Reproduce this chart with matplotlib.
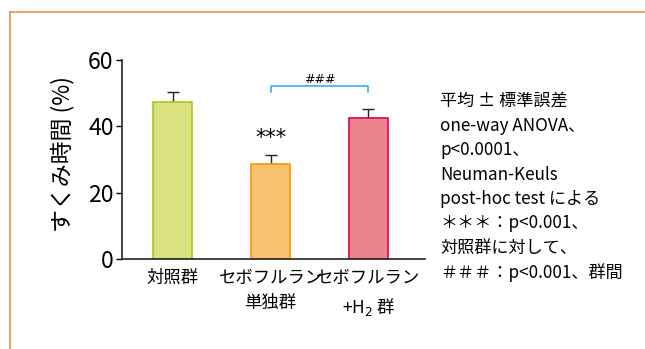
import matplotlib
matplotlib.use("Agg")
import matplotlib.pyplot as plt
from matplotlib.lines import Line2D

plt.rcParams['font.family'] = ['Noto Sans CJK JP', 'DejaVu Sans']

# data
groups = ['対照群', 'セボフルラン\n単独群', 'セボフルラン\n+H$_2$ 群']
means = [47.4, 28.6, 42.4]
sems = [2.9, 2.7, 2.8]
fills = ['#d9e27f', '#f7c272', '#ec848f']
edges = ['#a6c81e', '#f39800', '#e4004f']
note_lines = ['平均 ± 標準誤差', 'one-way ANOVA、', 'p<0.0001、', 'Neuman-Keuls',
              'post-hoc test による', '＊＊＊：p<0.001、', '対照群に対して、',
              '＃＃＃：p<0.001、群間']

fig = plt.figure(figsize=(6.45, 3.49), dpi=100)
W, H = 645, 349

# orange frame (top and left only)
fig.add_artist(Line2D([10 / W, 1], [1 - 12 / H, 1 - 12 / H], color='#f08a4b', lw=1.2))
fig.add_artist(Line2D([10 / W, 10 / W], [0, 1 - 12 / H], color='#f08a4b', lw=1.2))

ax = fig.add_axes([122 / W, 1 - 259 / H, (425 - 122) / W, (259 - 60) / H])
x = [0, 1, 2]
ax.bar(x, means, width=0.4, color=fills, edgecolor=edges, linewidth=1.2, zorder=2)
ax.errorbar(x, means, yerr=[[0, 0, 0], sems], fmt='none', ecolor='#222222',
            elinewidth=1, capsize=4, capthick=1, zorder=1)

ax.set_xlim(-0.52, 2.58)
ax.set_ylim(0, 60)
ax.set_yticks([0, 20, 40, 60])
ax.set_xticks(x)
ax.set_xticklabels(groups, fontsize=12.5, linespacing=1.55)
ax.tick_params(axis='y', labelsize=16.5, length=4, width=1, pad=2)
ax.tick_params(axis='x', length=0, pad=7)
for s in ['top', 'right']:
    ax.spines[s].set_visible(False)
for s in ['left', 'bottom']:
    ax.spines[s].set_linewidth(1.2)
    ax.spines[s].set_color('#222222')
ax.set_ylabel('すくみ時間 (%)', fontsize=16.5)
ax.yaxis.set_label_coords(-(122 - 74) / (425 - 122), 0.53)

# significance marks
ax.text(1, 36.5, '***', ha='center', va='center', fontsize=15, family='DejaVu Sans')
ax.plot([1, 1, 2, 2], [50.5, 52.2, 52.2, 50.5], color='#29a9e0', lw=1.1)
ax.text(1.5, 54.2, '###', ha='center', va='center', fontsize=9, family='DejaVu Sans')

# notes on the right
for i, line in enumerate(note_lines):
    fig.text(440 / W, 1 - (101 + i * 24.5) / H, line, fontsize=12.3, va='center', ha='left')

fig.savefig('out.png', dpi=100)
